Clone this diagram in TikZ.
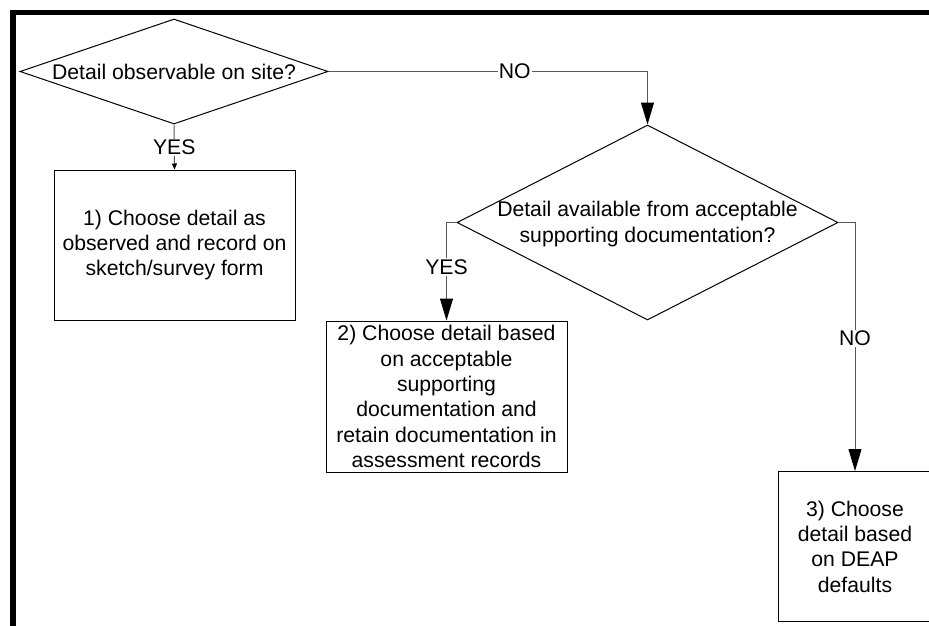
\documentclass[tikz,border=0pt]{standalone}
\usepackage{fontspec}
\setmainfont{Liberation Sans}
\usetikzlibrary{shapes.geometric,arrows.meta}
\begin{document}
\begin{tikzpicture}[x=1pt,y=-1pt,
  every node/.style={font=\fontsize{21.2}{25.3}\selectfont, inner sep=0pt, align=center},
  dia/.style={shape=diamond, draw=black, line width=1pt},
  box/.style={draw=black, line width=1pt, minimum width=241pt, minimum height=150pt},
  conn/.style={draw=black!65, line width=1pt},
  bigtip/.style={-{Triangle[length=22pt,width=13pt,fill=black,color=black]}},
  smalltip/.style={-{Triangle[length=6pt,width=5pt,fill=black,color=black]}},
  lbl/.style={fill=white, inner sep=1pt}]
\useasboundingbox (0,0) rectangle (929,625);
\clip (0,0) rectangle (929,625);
% frame
\draw[line width=5.5pt] (13,640) -- (13,12.5) -- (940,12.5);
% diamonds
\node[dia, minimum width=308pt, minimum height=105pt] (d1) at (174,71.5) {};
\node (d1t) at (174,72) {Detail observable on site?};
\node[dia, minimum width=381pt, minimum height=195pt] (d2) at (647.5,222.5) {};
\node (d2t) at (647.5,224) {Detail available from acceptable\\supporting documentation?};
% boxes
\node[box] (b1) at (174.5,245) {1) Choose detail as\\observed and record on\\sketch/survey form};
\node[box, minimum height=151pt] (b2) at (446.5,396.5) {2) Choose detail based\\on acceptable\\supporting\\documentation and\\retain documentation in\\assessment records};
\node[box, minimum width=154pt, minimum height=150pt] (b3) at (855,546.5) {3) Choose\\detail based\\on DEAP\\defaults};
% connectors
\draw[conn, smalltip] (d1.south) -- node[lbl] {YES} (b1.north);
\draw[conn, bigtip] (d1.east) -| node[lbl, pos=0.292] {NO} (d2.north);
\draw[conn, bigtip] (d2.west) -| node[lbl, pos=0.727] {YES} (b2.north);
\draw[conn, bigtip] (d2.east) -| node[lbl, pos=0.733] {NO} (b3.north);
\end{tikzpicture}
\end{document}
